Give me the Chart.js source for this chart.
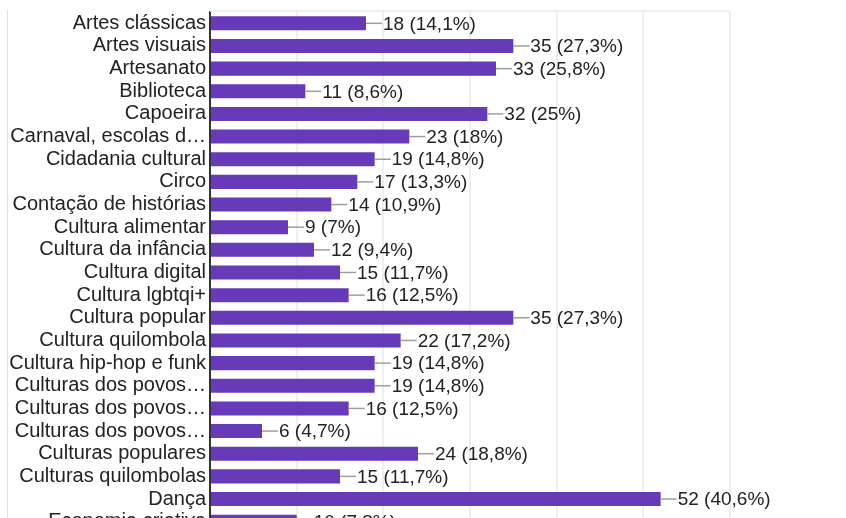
<!DOCTYPE html>
<html>
<head>
<meta charset="utf-8">
<script src="https://cdn.jsdelivr.net/npm/chart.js@4.4.1/dist/chart.umd.min.js"></script>
<style>
  html, body { margin: 0; padding: 0; background: #fff; overflow: hidden; }
  #wrap { position: relative; width: 846px; height: 533px; }
  #edge { position: absolute; left: 7px; top: 10px; width: 1px; height: 523px; background: #e0e0e0; }
  canvas { position: absolute; left: 0; top: 0; }
</style>
</head>
<body>
<div id="wrap">
  <div id="edge"></div>
  <canvas id="chart" width="846" height="533"></canvas>
</div>
<script>
  const areas = [
    "Artes clássicas", "Artes visuais", "Artesanato", "Biblioteca", "Capoeira",
    "Carnaval, escolas d…", "Cidadania cultural", "Circo", "Contação de histórias",
    "Cultura alimentar", "Cultura da infância", "Cultura digital", "Cultura lgbtqi+",
    "Cultura popular", "Cultura quilombola", "Cultura hip-hop e funk",
    "Culturas dos povos…", "Culturas dos povos…", "Culturas dos povos…",
    "Culturas populares", "Culturas quilombolas", "Dança", "Economia criativa"
  ];
  const counts = [18, 35, 33, 11, 32, 23, 19, 17, 14, 9, 12, 15, 16, 35, 22, 19, 19, 16, 6, 24, 15, 52, 10];
  const shares = [
    "14,1%", "27,3%", "25,8%", "8,6%", "25%", "18%", "14,8%", "13,3%", "10,9%",
    "7%", "9,4%", "11,7%", "12,5%", "27,3%", "17,2%", "14,8%", "14,8%", "12,5%",
    "4,7%", "18,8%", "11,7%", "40,6%", "7,8%"
  ];
  const xTicks = [0, 10, 20, 30, 40, 50, 60];

  const FONT = '"Liberation Sans", Arial, sans-serif';
  const PURPLE = "#673ab7";

  // thin rule along the top of the plot area
  const topRule = {
    id: "topRule",
    beforeDatasetsDraw(chart) {
      const { ctx, chartArea: a } = chart;
      ctx.save();
      ctx.strokeStyle = "#eeeeee";
      ctx.lineWidth = 2;
      ctx.beginPath();
      ctx.moveTo(a.left, a.top - 1);
      ctx.lineTo(a.right, a.top - 1);
      ctx.stroke();
      ctx.restore();
    }
  };

  // "—18 (14,1%)" tags at the end of each bar
  const valueTags = {
    id: "valueTags",
    afterDatasetsDraw(chart) {
      const { ctx } = chart;
      const meta = chart.getDatasetMeta(0);
      ctx.save();
      ctx.font = `19px ${FONT}`;
      ctx.textBaseline = "middle";
      meta.data.forEach((bar, i) => {
        ctx.strokeStyle = "#9e9e9e";
        ctx.lineWidth = 1.5;
        ctx.beginPath();
        ctx.moveTo(bar.x, bar.y);
        ctx.lineTo(bar.x + 16, bar.y);
        ctx.stroke();
        ctx.fillStyle = "#222";
        ctx.fillText(`${counts[i]} (${shares[i]})`, bar.x + 17, bar.y + 1);
      });
      ctx.restore();
    }
  };

  const chart = new Chart(document.getElementById("chart"), {
    type: "bar",
    data: {
      labels: areas,
      datasets: [{
        data: counts,
        backgroundColor: PURPLE,
        barPercentage: 0.62,
        categoryPercentage: 1
      }]
    },
    options: {
      indexAxis: "y",
      responsive: false,
      animation: false,
      layout: { padding: { top: 12, right: 116, left: 0, bottom: 0 } },
      plugins: { legend: { display: false }, tooltip: { enabled: false } },
      scales: {
        x: {
          min: 0,
          max: 60,
          afterBuildTicks: (s) => { s.ticks = xTicks.map(v => ({ value: v })); },
          afterFit: (s) => { s.height = 0; },
          ticks: { display: false },
          grid: { color: "#eeeeee", lineWidth: 2, drawTicks: false },
          border: { display: false }
        },
        y: {
          afterFit: (s) => { s.width = 210; s.paddingTop = 0; s.paddingBottom = 0; },
          grid: { display: false, drawTicks: false },
          border: { color: "#333", width: 2 },
          ticks: { color: "#222", padding: 4, font: { family: FONT, size: 20 }, autoSkip: false }
        }
      }
    },
    plugins: [topRule, valueTags]
  });
</script>
</body>
</html>
